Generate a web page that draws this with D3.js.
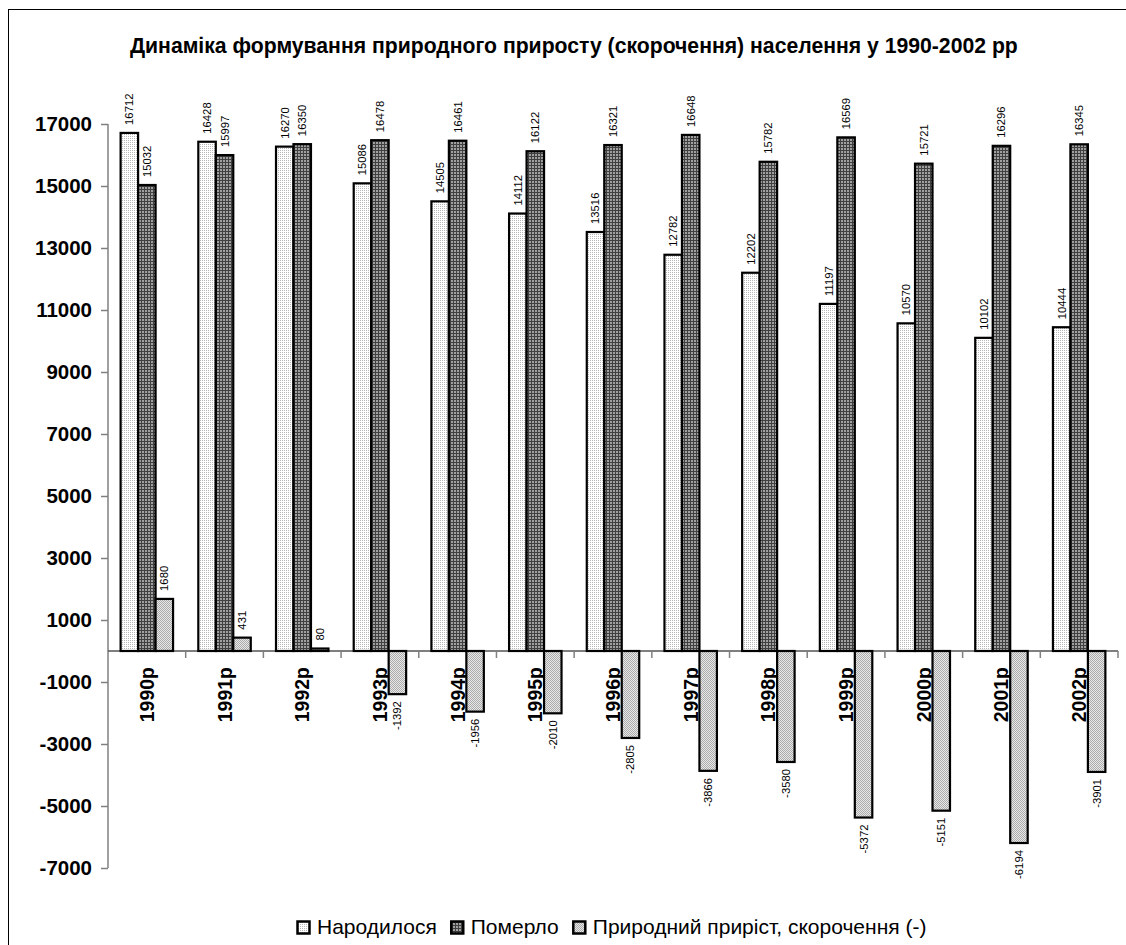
<!DOCTYPE html>
<html>
<head>
<meta charset="utf-8">
<script src="https://cdn.jsdelivr.net/npm/d3@7/dist/d3.min.js"></script>
<style>
  html, body { margin: 0; padding: 0; background: #fff; }
  svg { display: block; font-family: "Liberation Sans", Arial, sans-serif; }
</style>
</head>
<body>
<svg id="chart" width="1126" height="945"></svg>
<script>
// Population dynamics, 1990-2002
const years = ["1990р","1991р","1992р","1993р","1994р","1995р","1996р","1997р","1998р","1999р","2000р","2001р","2002р"];
const born = [16712, 16428, 16270, 15086, 14505, 14112, 13516, 12782, 12202, 11197, 10570, 10102, 10444];
const died = [15032, 15997, 16350, 16478, 16461, 16122, 16321, 16648, 15782, 16569, 15721, 16296, 16345];
const natural = [1680, 431, 80, -1392, -1956, -2010, -2805, -3866, -3580, -5372, -5151, -6194, -3901];
const seriesNames = ["Народилося", "Померло", "Природний приріст, скорочення (-)"];
const yTicks = [-7000, -5000, -3000, -1000, 1000, 3000, 5000, 7000, 9000, 11000, 13000, 15000, 17000];
const title = "Динаміка формування природного приросту (скорочення) населення у 1990-2002 рр";

const svg = d3.select("#chart");

// fill patterns
const defs = svg.append("defs");
const pBorn = defs.append("pattern").attr("id", "pBorn").attr("width", 2).attr("height", 2).attr("patternUnits", "userSpaceOnUse");
pBorn.append("rect").attr("width", 2).attr("height", 2).attr("fill", "#ffffff");
pBorn.append("rect").attr("width", 1).attr("height", 1).attr("fill", "#b8b8b8");

const pDied = defs.append("pattern").attr("id", "pDied").attr("width", 3).attr("height", 3).attr("patternUnits", "userSpaceOnUse");
pDied.append("rect").attr("width", 3).attr("height", 3).attr("fill", "#a0a0a0");
pDied.append("rect").attr("width", 3).attr("height", 1).attr("fill", "#404040");
pDied.append("rect").attr("width", 1).attr("height", 3).attr("fill", "#404040");

const pNat = defs.append("pattern").attr("id", "pNat").attr("width", 2).attr("height", 2).attr("patternUnits", "userSpaceOnUse");
pNat.append("rect").attr("width", 2).attr("height", 2).attr("fill", "#e8e8e8");
pNat.append("rect").attr("width", 1).attr("height", 1).attr("fill", "#ababab");
pNat.append("rect").attr("x", 1).attr("y", 1).attr("width", 1).attr("height", 1).attr("fill", "#ababab");

const fills = ["url(#pBorn)", "url(#pDied)", "url(#pNat)"];

// frame
svg.append("rect").attr("x", 8.5).attr("y", 9.5).attr("width", 1130).attr("height", 950)
  .attr("fill", "none").attr("stroke", "#000").attr("stroke-width", 1);

// title
svg.append("text").attr("x", 130).attr("y", 53).attr("text-anchor", "start")
  .attr("font-size", 21.2).attr("font-weight", "bold").text(title);

// scales
const x = d3.scaleBand().domain(years).range([108, 1118]).paddingInner(0).paddingOuter(0);
const bw = x.bandwidth();
const gw = bw * 0.675;
const x1 = d3.scaleBand().domain([0, 1, 2]).range([(bw - gw) / 2, (bw + gw) / 2]);
const y = d3.scaleLinear().domain([-7000, 17000]).range([868, 124]);

// y axis
const yAxis = svg.append("g").attr("transform", "translate(108,0)")
  .call(d3.axisLeft(y).tickValues(yTicks).tickSize(7).tickPadding(9).tickFormat(d => String(d)));
yAxis.select(".domain").attr("stroke", "#808080").attr("stroke-width", 1.5).attr("d", `M0,${y(17000)}V${y(-7000)}`);
yAxis.selectAll(".tick line").attr("stroke", "#808080").attr("stroke-width", 1.5);
yAxis.selectAll(".tick text").attr("font-size", 20.5).attr("font-weight", "bold").attr("fill", "#000")
  .attr("font-family", "'Liberation Sans', Arial, sans-serif");

// category labels (below zero line)
svg.append("g").selectAll("text").data(years).join("text")
  .attr("transform", d => `translate(${x(d) + bw / 2},${y(0) + 16}) rotate(-90)`)
  .attr("text-anchor", "end").attr("dy", "0.36em")
  .attr("font-size", 19.5).attr("font-weight", "bold").text(d => d);

// x axis line at zero with category boundary ticks
const xAxis = svg.append("g");
xAxis.append("line").attr("x1", 108).attr("x2", 1118).attr("y1", y(0)).attr("y2", y(0))
  .attr("stroke", "#555").attr("stroke-width", 1.5);
xAxis.selectAll("line.tk").data(years).join("line").attr("class", "tk")
  .attr("x1", d => x(d) + bw).attr("x2", d => x(d) + bw)
  .attr("y1", y(0)).attr("y2", y(0) + 7).attr("stroke", "#808080").attr("stroke-width", 1.5);

// bars
const series = [born, died, natural];
const bars = svg.append("g");
series.forEach((vals, si) => {
  const g = bars.append("g");
  g.selectAll("rect").data(vals).join("rect")
    .attr("x", (d, i) => x(years[i]) + x1(si))
    .attr("width", x1.bandwidth())
    .attr("y", d => y(Math.max(0, d)))
    .attr("height", d => Math.abs(y(d) - y(0)))
    .attr("fill", fills[si]).attr("stroke", "#000").attr("stroke-width", 2.2);
  g.selectAll("text").data(vals).join("text")
    .attr("transform", (d, i) => `translate(${x(years[i]) + x1(si) + x1.bandwidth() / 2},${d >= 0 ? y(d) - 8 : y(d) + 7}) rotate(-90)`)
    .attr("text-anchor", d => d >= 0 ? "start" : "end")
    .attr("dy", "0.35em").attr("font-size", 11.3).text(d => d);
});

// legend
const legend = svg.append("g").attr("transform", "translate(296,928)");
let lx = 0;
seriesNames.forEach((name, i) => {
  legend.append("rect").attr("x", lx + 1.5).attr("y", -6.5).attr("width", 12).attr("height", 12)
    .attr("fill", fills[i]).attr("stroke", "#000").attr("stroke-width", 2.5);
  const t = legend.append("text").attr("x", lx + 21).attr("y", 6)
    .attr("font-size", 21).text(name);
  lx += 21 + t.node().getComputedTextLength() + 13;
});
</script>
</body>
</html>
